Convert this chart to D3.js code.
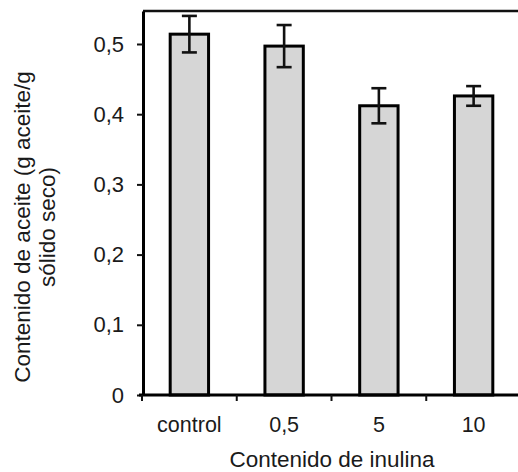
<!DOCTYPE html>
<html>
<head>
<meta charset="utf-8">
<script src="https://cdn.jsdelivr.net/npm/d3@7"></script>
<style>
  html, body { margin: 0; padding: 0; background: #fff; }
  svg { display: block; }
  text { font-family: "Liberation Sans", Arial, sans-serif; fill: #1a1a1a; }
</style>
</head>
<body>
<svg id="chart" width="518" height="472"></svg>
<script>
const categories = ["control", "0,5", "5", "10"];
const values = [0.514, 0.497, 0.412, 0.426];
const errors = [0.026, 0.030, 0.025, 0.014];
const yTicks = [0, 0.1, 0.2, 0.3, 0.4, 0.5];
const yTickLabels = ["0", "0,1", "0,2", "0,3", "0,4", "0,5"];
const yMax = 0.547;
const xTitle = "Contenido de inulina";
const yTitleLines = ["Contenido de aceite (g aceite/g", "sólido seco)"];

const svg = d3.select("#chart");
const mLeft = 143, mRight = 521, mTop = 11, mBottom = 395;

const x = d3.scaleBand().domain(categories).range([mLeft - 1, mRight]).padding(0);
const y = d3.scaleLinear().domain([0, yMax]).range([mBottom, mTop]);
const barW = x.bandwidth() * 0.405;

// bars
svg.append("g").selectAll("rect").data(categories).join("rect")
  .attr("x", (d) => x(d) + x.bandwidth() / 2 - barW / 2)
  .attr("y", (d, i) => y(values[i]))
  .attr("width", barW)
  .attr("height", (d, i) => y(0) - y(values[i]))
  .attr("fill", "#d6d6d6")
  .attr("stroke", "#000")
  .attr("stroke-width", 3);

// error bars
const eg = svg.append("g").attr("stroke", "#111").attr("stroke-width", 2.6);
categories.forEach((c, i) => {
  const cx = x(c) + x.bandwidth() / 2;
  const y1 = y(values[i] + errors[i]), y2 = y(values[i] - errors[i]);
  eg.append("line").attr("x1", cx).attr("x2", cx).attr("y1", y1).attr("y2", y2);
  eg.append("line").attr("x1", cx - 7.5).attr("x2", cx + 7.5).attr("y1", y1).attr("y2", y1);
  eg.append("line").attr("x1", cx - 7.5).attr("x2", cx + 7.5).attr("y1", y2).attr("y2", y2);
});

// top frame
svg.append("line").attr("x1", mLeft).attr("x2", 518).attr("y1", y(yMax)).attr("y2", y(yMax))
  .attr("stroke", "#111").attr("stroke-width", 2.5);

// y axis
const yAxis = d3.axisLeft(y).tickValues(yTicks).tickFormat((d, i) => yTickLabels[i])
  .tickSize(6).tickPadding(13).tickSizeOuter(0);
const gy = svg.append("g").attr("transform", `translate(${mLeft},0)`).call(yAxis);
gy.select(".domain").attr("stroke", "#000").attr("stroke-width", 3);
gy.selectAll(".tick line").attr("stroke", "#111").attr("stroke-width", 2);
gy.selectAll(".tick text").attr("font-size", 22).attr("fill", "#1a1a1a")
  .style("font-family", '"Liberation Sans", Arial, sans-serif');

// x axis
const bounds = categories.map((c) => x(c)).concat([x(categories[categories.length - 1]) + x.bandwidth()]);
const gx = svg.append("g");
gx.append("line").attr("x1", mLeft - 4).attr("x2", 518).attr("y1", mBottom).attr("y2", mBottom)
  .attr("stroke", "#000").attr("stroke-width", 3);
gx.selectAll("line.tk").data(bounds).join("line").attr("class", "tk")
  .attr("x1", (d) => d).attr("x2", (d) => d).attr("y1", mBottom).attr("y2", mBottom + 6)
  .attr("stroke", "#111").attr("stroke-width", 2);
gx.selectAll("text").data(categories).join("text")
  .attr("x", (d) => x(d) + x.bandwidth() / 2)
  .attr("y", 432)
  .attr("text-anchor", "middle")
  .attr("font-size", 21.5)
  .text((d) => d);

// axis titles
svg.append("text").attr("x", 332).attr("y", 467).attr("text-anchor", "middle")
  .attr("font-size", 22.5).text(xTitle);

const yt = svg.append("text").attr("transform", "translate(0,227) rotate(-90)")
  .attr("text-anchor", "middle").attr("font-size", 22.5);
yt.append("tspan").attr("x", 0).attr("y", 30).text(yTitleLines[0]);
yt.append("tspan").attr("x", 0).attr("y", 55).text(yTitleLines[1]);
</script>
</body>
</html>
